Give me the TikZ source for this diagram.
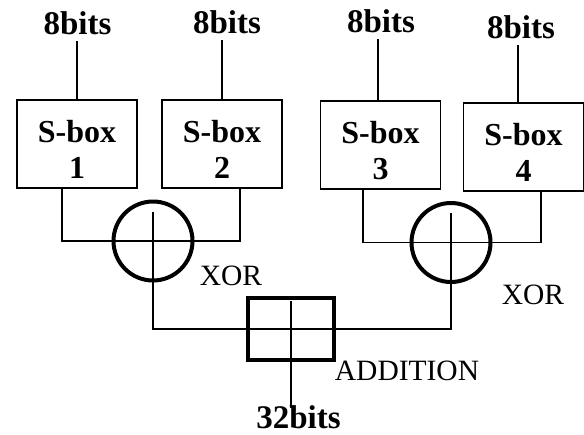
\documentclass[tikz,border=0pt]{standalone}
\usepackage{fontspec}
\setmainfont{Liberation Serif}
\tikzset{sbox/.style={
    rectangle,
    draw,
    line width=1.4pt,
    align=center,
    minimum width=120pt,
    minimum height=88pt,
    font=\bfseries\fontsize{32}{36}\selectfont
  },
  bitstxt/.style={inner sep=0pt,font=\bfseries\fontsize{33}{36}\selectfont},
  optxt/.style={inner sep=0pt,font=\fontsize{29.5}{34}\selectfont},
  xorc/.style={circle,draw,line width=4pt,minimum size=79pt,inner sep=0pt},
  addbox/.style={rectangle,draw,line width=4pt,minimum width=86pt,minimum height=62pt,inner sep=0pt},
  wire/.style={line width=1.4pt},
}
\begin{document}
\begin{tikzpicture}[x=1pt,y=-1pt]
  \useasboundingbox (0,0) rectangle (584,434);
  % inputs
  \node [bitstxt] (in1) at (77.5,23) {8bits};
  \node [bitstxt] (in2) at (227,22) {8bits};
  \node [bitstxt] (in3) at (381,21) {8bits};
  \node [bitstxt] (in4) at (521,27.5) {8bits};
  % s-boxes
  \node [sbox] (sb1) at (77,144) {\rule{0pt}{33pt}S-box\\1};
  \node [sbox] (sb2) at (222,144) {\rule{0pt}{33pt}S-box\\2};
  \node [sbox] (sb3) at (380.5,145) {\rule{0pt}{33pt}S-box\\3};
  \node [sbox] (sb4) at (523.5,147) {\rule{0pt}{33pt}S-box\\4};
  % operators
  \node [xorc] (xor1) at (153,241) {};
  \node [xorc] (xor2) at (451,242.5) {};
  \node [addbox] (add) at (291,329) {};
  \node [optxt] (xorlbl1) at (231,276) {XOR};
  \node [optxt] (xorlbl2) at (533,294.5) {XOR};
  \node [optxt] (addlbl) at (407,371) {ADDITION};
  \node [bitstxt] (out) at (298.5,417) {32bits};
  % wires
  \draw[wire] (sb1.north) -- ([yshift=-6pt]sb1.north |- in1.south);
  \draw[wire] (sb2.north) -- ([yshift=-6pt]sb2.north |- in2.south);
  \draw[wire] ([xshift=-2.5pt]sb3.north) -- ([xshift=-2.5pt,yshift=-6pt]sb3.north |- in3.south);
  \draw[wire] ([xshift=-5.5pt]sb4.north) -- ([xshift=-5.5pt,yshift=-6pt]sb4.north |- in4.south);
  \draw[wire] ([xshift=-15pt]sb1.south) |- (xor1.center) -| ([xshift=18pt]sb2.south);
  \draw[wire] ([xshift=-17.5pt]sb3.south) |- (xor2.center) -| ([xshift=17.5pt]sb4.south);
  \draw[wire] ([yshift=-12pt]xor1.north) -- (xor1.south);
  \draw[wire] ([yshift=-12pt]xor2.north) -- (xor2.south);
  \draw[wire] (xor1.south) |- (add.center) -| (xor2.south);
  \draw[wire] ([yshift=-5pt]add.north) -- ([yshift=-3pt]add.north |- out.north);
\end{tikzpicture}
\end{document}
